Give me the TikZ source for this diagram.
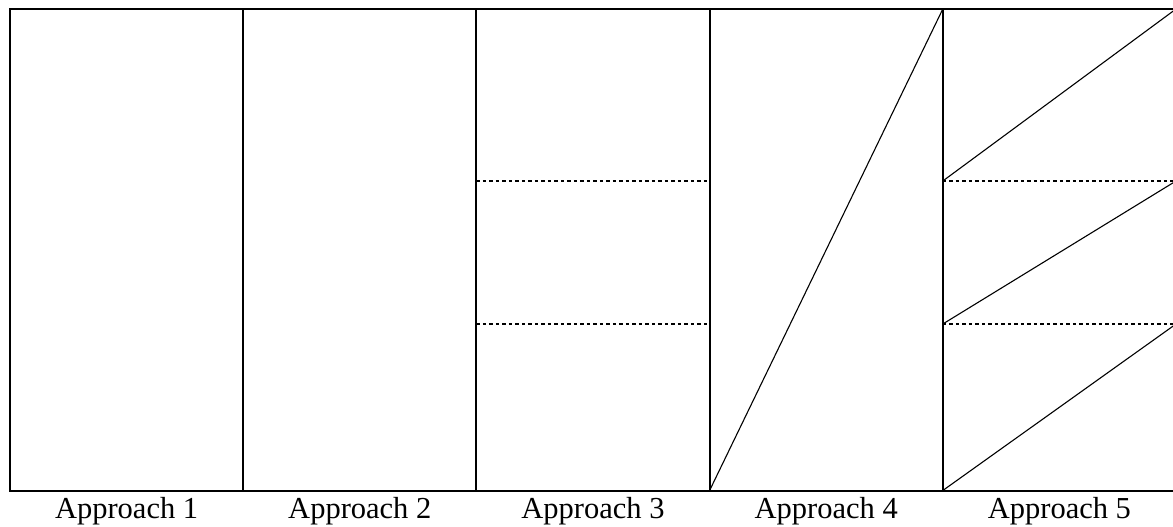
\documentclass[tikz,border=0pt]{standalone}
\usepackage{fontspec}
\setmainfont{Liberation Serif}
\begin{document}
\begin{tikzpicture}[x=1pt,y=-1pt,
  frame/.style={line width=2pt},
  thin/.style={line width=1.1pt},
  dotted line/.style={line width=1.1pt,dash pattern=on 3.5pt off 3pt},
  lab/.style={anchor=base,font=\fontsize{30.5}{34}\selectfont,inner sep=0pt}]
\useasboundingbox (0,0) rectangle (1173,527);
% column coordinates
\foreach \i/\x in {0/10,1/243.2,2/476.4,3/709.6,4/942.8,5/1176}{
  \coordinate (t\i) at (\x,9);
  \coordinate (b\i) at (\x,490.5);
  \coordinate (u\i) at (\x,181);
  \coordinate (l\i) at (\x,324);
}
\draw[frame] (t0) rectangle (b5);
\foreach \i in {1,2,3,4}{\draw[frame] (t\i) -- (b\i);}
% approach 3
\draw[dotted line] (u2) -- (u3);
\draw[dotted line] (l2) -- (l3);
% approach 4
\draw[thin] (b3) -- (t4);
% approach 5
\draw[dotted line] (u4) -- (u5);
\draw[dotted line] (l4) -- (l5);
\draw[thin] (u4) -- (t5);
\draw[thin] (l4) -- (u5);
\draw[thin] (b4) -- (l5);
% labels
\node[lab] (a1) at (126.6,518) {Approach 1};
\node[lab] (a2) at (359.8,518) {Approach 2};
\node[lab] (a3) at (593,518) {Approach 3};
\node[lab] (a4) at (826.2,518) {Approach 4};
\node[lab] (a5) at (1059.4,518) {Approach 5};
\end{tikzpicture}
\end{document}
